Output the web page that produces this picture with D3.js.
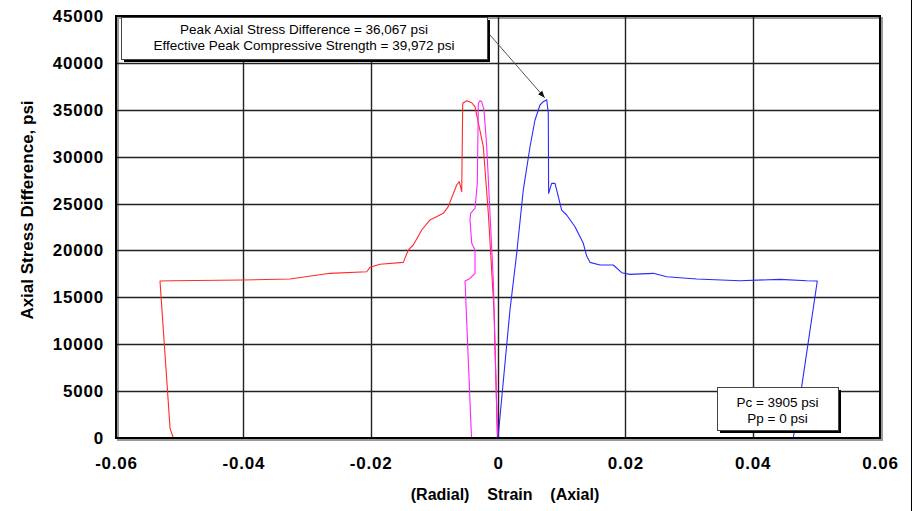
<!DOCTYPE html>
<html>
<head>
<meta charset="utf-8">
<script src="https://cdn.jsdelivr.net/npm/d3@7"></script>
<style>
  body { margin: 0; background: #fff; }
  svg { display: block; font-family: "Liberation Sans", Arial, sans-serif; }
</style>
</head>
<body>
<div class="canva"></div>
<script>
// axial strain curve (blue)
var axialStrain = [0, 0.00188, 0.00294, 0.00397, 0.00503, 0.00581, 0.00660, 0.00711, 0.00765, 0.00790,
    0.00795, 0.00843, 0.00895, 0.00922, 0.01000, 0.01079, 0.01209, 0.01340, 0.01393, 0.01445,
    0.01602, 0.01811, 0.01943, 0.02073, 0.02439, 0.02650, 0.03121, 0.03801, 0.04429, 0.04848,
    0.05015, 0.04770, 0.04638, 0.04245];
var axialStress = [0, 13650, 19700, 26440, 31060, 33910, 35510, 35860, 36067, 34620,
    26090, 27150, 27150, 26440, 24310, 23780, 22530, 20760, 19400, 18730,
    18450, 18450, 17630, 17450, 17560, 17200, 16950, 16770, 16920, 16770,
    16740, 5470, 0, 0];

// radial strain curve (red)
var radialStrain = [-0.00008, -0.00063, -0.00152, -0.00231, -0.00361, -0.00413, -0.00492, -0.00554, -0.00570, -0.00608,
    -0.00649, -0.00781, -0.00859, -0.01068, -0.01198, -0.01330, -0.01409, -0.01487, -0.01853, -0.02010,
    -0.02062, -0.02639, -0.03267, -0.04005, -0.05125, -0.05309, -0.05151, -0.05100];
var radialStress = [0, 13650, 23960, 31060, 35330, 35750, 35970, 35690, 26270, 27330,
    26980, 24670, 23960, 23250, 22180, 20580, 20050, 18730, 18520, 18200,
    17730, 17560, 16950, 16850, 16770, 16740, 1030, 0];

// second radial gauge (magenta)
var radial2Strain = [-0.00416, -0.00518, -0.00440, -0.00361, -0.00361, -0.00413, -0.00440, -0.00429, -0.00361, -0.00335,
    -0.00325, -0.00309, -0.00283, -0.00256, -0.00220, -0.00177, -0.00126, -0.00074, -0.00008];
var radial2Stress = [0, 16740, 17020, 17560, 20050, 20760, 23250, 23960, 24500, 26440,
    27150, 35690, 35970, 35860, 34980, 31060, 23960, 16850, 0];

var xTicks = [-0.06, -0.04, -0.02, 0, 0.02, 0.04, 0.06];
var yTicks = [0, 5000, 10000, 15000, 20000, 25000, 30000, 35000, 40000, 45000];
var peakLabel = ["Peak Axial Stress Difference = 36,067 psi", "Effective Peak Compressive Strength = 39,972 psi"];
var pressureLabel = ["Pc = 3905 psi", "Pp = 0 psi"];

const width = 917, height = 511;
const margin = {top: 16, right: 37, bottom: 73, left: 116};
const graphWidth = width - margin.left - margin.right;
const graphHeight = height - margin.top - margin.bottom;

const svg = d3.select(".canva").append("svg")
    .attr("width", width)
    .attr("height", height);

// outer frame line on the right
svg.append("line")
    .attr("x1", 911.5).attr("x2", 911.5)
    .attr("y1", 0).attr("y2", height)
    .attr("stroke", "#000").attr("stroke-width", 1);

const g = svg.append("g")
    .attr("transform", `translate(${margin.left}, ${margin.top})`);

var x = d3.scaleLinear().domain([-0.06, 0.06]).range([0, graphWidth]);
var y = d3.scaleLinear().domain([0, 45000]).range([graphHeight, 0]);

// shadow of plot frame
g.append("rect")
    .attr("x", 2).attr("y", 2)
    .attr("width", graphWidth).attr("height", graphHeight)
    .attr("fill", "none").attr("stroke", "#999").attr("stroke-width", 2);

// grid
g.selectAll(".hgrid").data(yTicks.slice(1, -1)).enter().append("line")
    .attr("x1", 0).attr("x2", graphWidth)
    .attr("y1", d => Math.round(y(d)) + 0.5).attr("y2", d => Math.round(y(d)) + 0.5)
    .attr("stroke", "#222").attr("stroke-width", 1.4);
g.selectAll(".vgrid").data(xTicks.slice(1, -1)).enter().append("line")
    .attr("y1", 0).attr("y2", graphHeight)
    .attr("x1", d => Math.round(x(d)) + 0.5).attr("x2", d => Math.round(x(d)) + 0.5)
    .attr("stroke", "#222").attr("stroke-width", 1.4);

// curves
var line = d3.line()
    .x(d => x(d[0]))
    .y(d => y(d[1]));

function drawCurve(xs, ys, color) {
    g.append("path")
        .datum(xs.map((v, i) => [v, ys[i]]))
        .attr("fill", "none")
        .attr("stroke", color)
        .attr("stroke-width", 1.1)
        .attr("stroke-linejoin", "round")
        .attr("d", line);
}
drawCurve(radialStrain, radialStress, "#ff2a2a");
drawCurve(radial2Strain, radial2Stress, "#ff22ff");
drawCurve(axialStrain, axialStress, "#2a2aff");

// plot frame
g.append("rect")
    .attr("x", 0).attr("y", 0)
    .attr("width", graphWidth).attr("height", graphHeight)
    .attr("fill", "none").attr("stroke", "#000").attr("stroke-width", 2);

// axes (labels only)
var xAxis = d3.axisBottom(x).tickValues(xTicks).tickSize(0).tickPadding(19)
    .tickFormat(d => d === 0 ? "0" : d3.format(".2f")(d).replace("−", "-"));
var yAxis = d3.axisLeft(y).tickValues(yTicks).tickSize(0).tickPadding(12)
    .tickFormat(d3.format("d"));

var gx = g.append("g").attr("transform", `translate(0, ${graphHeight})`).call(xAxis);
var gy = g.append("g").call(yAxis);
[gx, gy].forEach(a => {
    a.select(".domain").remove();
    a.selectAll("text")
        .attr("fill", "#000")
        .style("font-family", "'Liberation Sans', Arial, sans-serif")
        .style("font-size", "17px")
        .style("font-weight", "bold")
        .style("letter-spacing", "0.8px");
});

// axis titles
svg.append("text")
    .attr("transform", "translate(33, 210) rotate(-90)")
    .attr("text-anchor", "middle")
    .style("font-size", "17px")
    .style("font-weight", "bold")
    .text("Axial Stress Difference, psi");

svg.append("text")
    .attr("x", 505).attr("y", 500)
    .attr("text-anchor", "middle")
    .style("font-size", "16px")
    .style("font-weight", "bold")
    .attr("xml:space", "preserve")
    .style("white-space", "pre")
    .text("(Radial)    Strain    (Axial)");

// annotation boxes
function labelBox(bx, by, bw, bh, lines, lineY) {
    svg.append("rect")
        .attr("x", bx + 3).attr("y", by + 3)
        .attr("width", bw).attr("height", bh)
        .attr("fill", "#000");
    svg.append("rect")
        .attr("x", bx + 0.5).attr("y", by + 0.5)
        .attr("width", bw).attr("height", bh)
        .attr("fill", "#fff").attr("stroke", "#444").attr("stroke-width", 1);
    lines.forEach((t, i) => {
        svg.append("text")
            .attr("x", bx + bw / 2).attr("y", lineY[i])
            .attr("text-anchor", "middle")
            .style("font-size", "13.5px")
            .text(t);
    });
}

// arrow pointing to the peak
svg.append("defs").append("marker")
    .attr("id", "arrow")
    .attr("viewBox", "0 0 10 10")
    .attr("refX", 10).attr("refY", 5)
    .attr("markerWidth", 7).attr("markerHeight", 7)
    .attr("orient", "auto")
    .append("path").attr("d", "M0,1 L10,5 L0,9 z").attr("fill", "#111");

var peakX = margin.left + x(0.00765), peakY = margin.top + y(36067);
svg.append("line")
    .attr("x1", 490).attr("y1", 35)
    .attr("x2", peakX - 2).attr("y2", peakY - 2)
    .attr("stroke", "#555").attr("stroke-width", 1)
    .attr("marker-end", "url(#arrow)");

labelBox(121, 17, 366, 42, peakLabel, [34, 50]);
labelBox(717, 387, 121, 43, pressureLabel, [407, 423]);
</script>
</body>
</html>
